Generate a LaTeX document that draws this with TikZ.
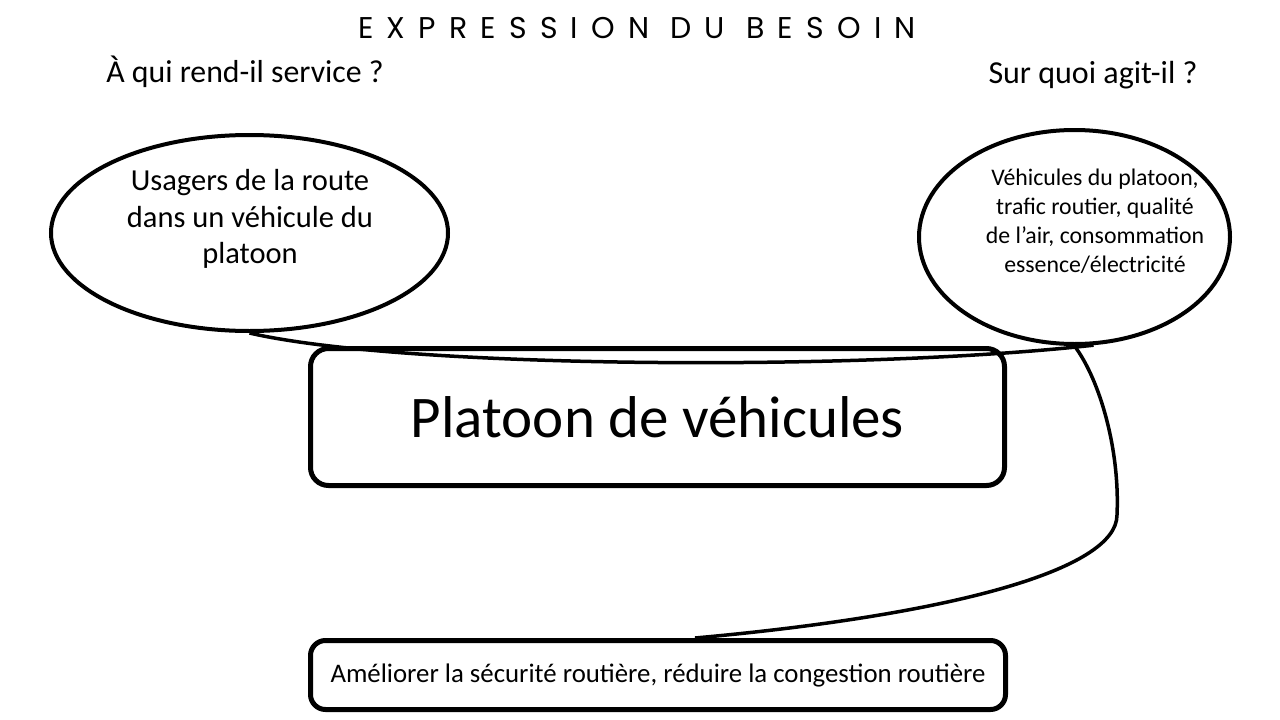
\documentclass[tikz,border=0pt]{standalone}
\usepackage{fontspec}
\setmainfont{Carlito}
\newfontfamily\titlefont[LetterSpace=44]{Poppins}
\usetikzlibrary{shapes.geometric}

\begin{document}
\begin{tikzpicture}[x=1pt, y=-1pt,
    horn/.style={ellipse, draw, line width=4pt, inner sep=0pt},
    box/.style={draw, line width=5pt, rounded corners=18pt, inner sep=0pt},
    link/.style={line width=3.5pt}]
    \useasboundingbox (0,0) rectangle (1280,720);

    % titre et questions
    \node (titre) at (637,28) {\titlefont\fontsize{30}{34}\selectfont EXPRESSION DU BESOIN};
    \node (qui) at (245,72) {\fontsize{31.8}{36}\selectfont À qui rend-il service ?};
    \node (quoi) at (1093,75) {\fontsize{32}{36}\selectfont Sur quoi agit-il ?};

    % les deux cornes
    \node[horn, minimum width=397pt, minimum height=196pt] (usagers) at (249.5,233) {};
    \node[align=center, font=\fontsize{30.5}{36.5}\selectfont] (usagersTxt) at (250,219)
        {Usagers de la route\\dans un véhicule du\\platoon};
    \node[horn, minimum width=311pt, minimum height=214pt] (agit) at (1074.5,237) {};
    \node[align=center, font=\fontsize{23.8}{29}\selectfont] (agitTxt) at (1095,221)
        {Véhicules du platoon,\\trafic routier, qualité\\de l’air, consommation\\essence/électricité};

    % produit et fonction
    \node[box, minimum width=694pt, minimum height=137pt] (platoon) at (657.5,417)
        {\fontsize{59}{66}\selectfont Platoon de véhicules};
    \node[box, rounded corners=15pt, minimum width=695pt, minimum height=69pt] (fonction) at (658,675)
        {\fontsize{26.8}{30}\selectfont Améliorer la sécurité routière, réduire la congestion routière};

    \draw[link] (usagers.south) .. controls (400,368) and (850,372) .. (agit.-80);
    \draw[link] (agit.south) .. controls (1100,380) and (1120,450) .. (1117,515)
        .. controls (1117,570) and (950,615) .. (fonction.45);
\end{tikzpicture}
\end{document}
